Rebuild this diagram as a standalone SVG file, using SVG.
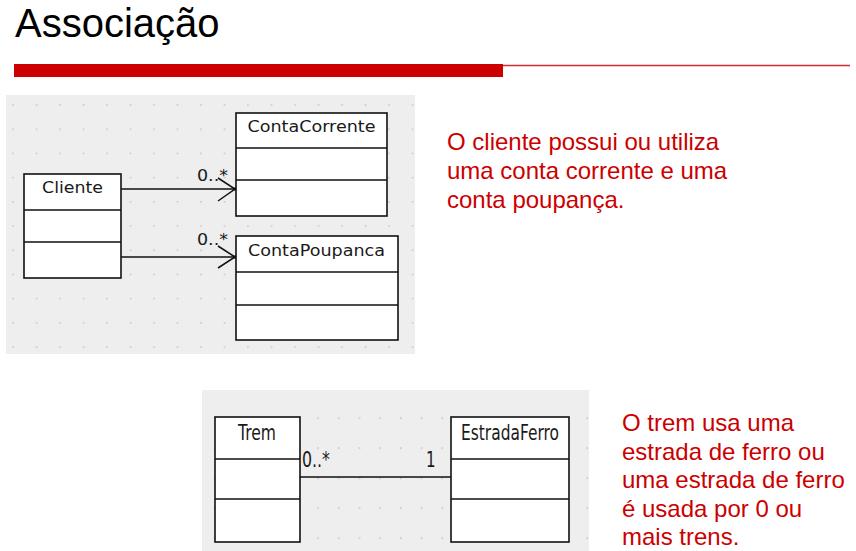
<svg xmlns="http://www.w3.org/2000/svg" width="856" height="551" viewBox="0 0 856 551">
  <defs>
    <pattern id="dotsTop" patternUnits="userSpaceOnUse" x="12.2" y="104.2" width="23.5" height="24.2">
      <rect x="0" y="0" width="1.6" height="1.6" fill="#c8c8c8"/>
    </pattern>
    <pattern id="dotsBottom" patternUnits="userSpaceOnUse" x="317.2" y="417.2" width="20.7" height="30">
      <rect x="0" y="0" width="1.6" height="1.8" fill="#c8c8c8"/>
    </pattern>
  </defs>
  <style>
    .title { font-family: "Liberation Sans", Arial, sans-serif; font-size: 40px; fill: #000; }
    .note { font-family: "Liberation Sans", Arial, sans-serif; font-size: 24px; fill: #cc0000; }
    .box { fill: #ffffff; stroke: #111111; stroke-width: 1.6; }
    .div { stroke: #111111; stroke-width: 1.4; }
    .cls { font-family: "DejaVu Sans", Verdana, sans-serif; font-size: 16px; fill: #1a1a1a; text-anchor: middle; }
    .mult { font-family: "DejaVu Sans", Verdana, sans-serif; font-size: 15px; fill: #1a1a1a; }
    .edge { stroke: #111111; stroke-width: 1.5; fill: none; }
  </style>

  <rect width="856" height="551" fill="#ffffff"/>

  <!-- Header -->
  <text class="title" x="15" y="37">Associação</text>
  <line x1="14" y1="65.5" x2="850" y2="65.5" stroke="#d42a2a" stroke-width="1.4"/>
  <rect x="14" y="64" width="489" height="13" fill="#cc0000"/>

  <!-- Panels -->
  <rect x="6" y="95" width="409" height="259" fill="#eeeeee"/>
  <rect x="6" y="95" width="409" height="259" fill="url(#dotsTop)"/>
  <rect x="202" y="390" width="387" height="161" fill="#eeeeee"/>
  <rect x="202" y="390" width="387" height="161" fill="url(#dotsBottom)"/>

  <!-- Connectors -->
  <g id="connectors">
    <line class="edge" x1="121" y1="189" x2="235" y2="189"/>
    <polyline class="edge" points="218,178 235,189 218,201"/>
    <rect x="233.5" y="187.5" width="3" height="3" fill="#111"/>
    <line class="edge" x1="121" y1="257" x2="235" y2="257"/>
    <polyline class="edge" points="218,246 235,257 218,268"/>
    <rect x="233.5" y="255.5" width="3" height="3" fill="#111"/>
    <line class="edge" x1="297" y1="477" x2="451" y2="477"/>
    <text class="mult" x="197" y="181" textLength="31" lengthAdjust="spacingAndGlyphs">0..*</text>
    <text class="mult" x="197" y="245" textLength="31" lengthAdjust="spacingAndGlyphs">0..*</text>
    <text class="mult" transform="translate(302,467) scale(1,1.4)" textLength="28" lengthAdjust="spacingAndGlyphs">0..*</text>
    <text class="mult" transform="translate(426,467) scale(1,1.4)">1</text>
  </g>

  <!-- Top diagram nodes -->
  <g id="cliente">
    <rect class="box" x="24" y="174" width="97" height="104"/>
    <line class="div" x1="24" y1="210" x2="121" y2="210"/>
    <line class="div" x1="24" y1="242" x2="121" y2="242"/>
    <text class="cls" x="72.5" y="193" textLength="61" lengthAdjust="spacingAndGlyphs">Cliente</text>
  </g>
  <g id="contaCorrente">
    <rect class="box" x="236" y="113" width="151" height="103"/>
    <line class="div" x1="236" y1="148" x2="387" y2="148"/>
    <line class="div" x1="236" y1="180" x2="387" y2="180"/>
    <text class="cls" x="311.5" y="132" textLength="128" lengthAdjust="spacingAndGlyphs">ContaCorrente</text>
  </g>
  <g id="contaPoupanca">
    <rect class="box" x="236" y="236" width="162" height="104"/>
    <line class="div" x1="236" y1="272" x2="398" y2="272"/>
    <line class="div" x1="236" y1="305" x2="398" y2="305"/>
    <text class="cls" x="316.5" y="255.5" textLength="137" lengthAdjust="spacingAndGlyphs">ContaPoupanca</text>
  </g>

  <!-- Bottom diagram nodes -->
  <g id="trem">
    <rect class="box" x="215" y="417" width="85" height="125"/>
    <line class="div" x1="215" y1="459" x2="300" y2="459"/>
    <line class="div" x1="215" y1="499" x2="300" y2="499"/>
    <text class="cls" style="font-size:15px" transform="translate(257,440) scale(1,1.4)" textLength="38" lengthAdjust="spacingAndGlyphs">Trem</text>
  </g>
  <g id="estradaFerro">
    <rect class="box" x="451" y="417" width="118" height="125"/>
    <line class="div" x1="451" y1="459" x2="569" y2="459"/>
    <line class="div" x1="451" y1="499" x2="569" y2="499"/>
    <text class="cls" style="font-size:15px" transform="translate(510,440) scale(1,1.4)" textLength="98" lengthAdjust="spacingAndGlyphs">EstradaFerro</text>
  </g>

  <!-- Notes -->
  <g id="note1">
    <text class="note" x="447" y="150">O cliente possui ou utiliza</text>
    <text class="note" x="447" y="179">uma conta corrente e uma</text>
    <text class="note" x="447" y="208">conta poupança.</text>
  </g>
  <g id="note2">
    <text class="note" x="622" y="431">O trem usa uma</text>
    <text class="note" x="622" y="460">estrada de ferro ou</text>
    <text class="note" x="622" y="488">uma estrada de ferro</text>
    <text class="note" x="622" y="517">é usada por 0 ou</text>
    <text class="note" x="622" y="545">mais trens.</text>
  </g>
</svg>
